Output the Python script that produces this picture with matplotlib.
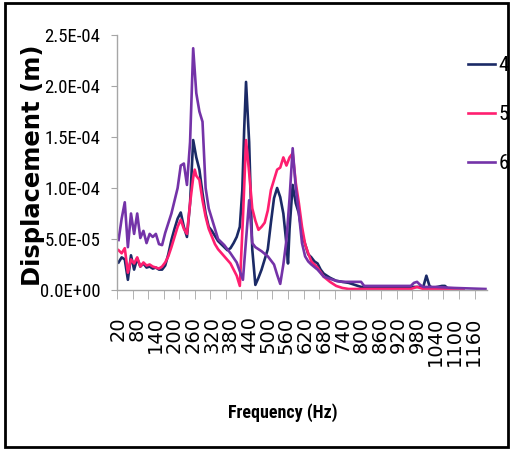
import matplotlib
matplotlib.use("Agg")
import matplotlib.pyplot as plt
from matplotlib import font_manager as fm
from matplotlib.font_manager import FontProperties
from matplotlib.patches import Rectangle
from matplotlib.ticker import FixedLocator, NullFormatter

# ---- data (displacement in units of 1e-4 m) ----
f4 = [20,30,40,50,60,70,80,90,100,110,120,130,140,150,160,170,180,190,200,210,220,230,240,250,260,270,280,290,300,
      310,320,340,360,370,380,390,400,410,418,424,430,440,450,460,470,480,490,500,510,520,530,540,550,560,565,570,
      580,590,600,610,620,630,640,650,660,670,680,700,720,740,760,780,800,850,900,950,1000,1010,1020,1030,1060,1070,1080,1100]
v4 = [0.27,0.32,0.30,0.10,0.34,0.20,0.31,0.23,0.26,0.22,0.23,0.21,0.22,0.20,0.20,0.24,0.35,0.49,0.60,0.70,
      0.76,0.62,0.52,0.85,1.47,1.30,1.18,0.95,0.75,0.62,0.58,0.48,0.42,0.39,0.41,0.46,0.52,0.62,
      0.98,1.57,2.04,1.45,0.40,0.05,0.12,0.20,0.30,0.40,0.66,0.90,1.00,0.91,0.75,0.45,0.26,0.60,1.03,0.85,0.75,
      0.55,0.45,0.35,0.32,0.28,0.26,0.20,0.16,0.12,0.09,0.08,0.07,0.05,0.03,0.03,0.03,0.03,0.03,0.14,0.04,0.02,
      0.04,0.04,0.01,0.01]

f5 = [20,30,40,50,60,70,80,90,100,110,120,130,140,150,160,170,180,190,200,210,220,230,240,250,260,265,270,280,290,300,310,
      330,340,360,380,400,410,420,430,440,450,460,470,480,490,500,510,520,530,540,550,560,570,580,590,600,
      610,620,630,640,660,680,700,720,740,760,800,900,960,980,1000,1050,1130]
v5 = [0.39,0.36,0.41,0.17,0.30,0.26,0.32,0.23,0.27,0.24,0.25,0.23,0.22,0.21,0.23,0.27,0.33,0.42,0.52,0.62,
      0.69,0.60,0.55,0.85,1.10,1.18,1.12,1.08,0.88,0.72,0.60,
      0.45,0.40,0.33,0.26,0.14,0.04,0.70,1.47,1.15,0.80,0.68,0.59,0.62,0.66,0.78,
      0.98,1.08,1.18,1.20,1.30,1.22,1.30,1.34,1.05,0.85,0.62,0.45,0.36,0.28,
      0.22,0.13,0.08,0.04,0.02,0.01,0.01,0.01,0.01,0.03,0.01,0.01,0.01]

f6 = [20,30,40,50,60,70,80,90,100,110,120,130,140,150,160,170,190,210,220,230,240,250,260,270,280,290,300,
      310,320,340,360,380,400,420,440,450,460,480,500,520,530,540,550,560,570,580,590,600,
      610,620,630,640,660,680,700,720,740,760,780,800,810,900,960,970,980,990,1000,1040,1100,1200]
v6 = [0.49,0.70,0.86,0.42,0.75,0.55,0.75,0.51,0.58,0.46,0.55,0.52,0.55,0.45,0.44,0.56,
      0.75,1.00,1.22,1.24,1.03,1.45,2.37,1.93,1.75,1.65,1.00,
      0.80,0.70,0.50,0.44,0.36,0.27,0.10,0.88,0.46,0.42,
      0.38,0.33,0.25,0.15,0.06,0.25,0.49,0.90,1.39,1.00,0.75,
      0.46,0.33,0.28,0.25,0.20,0.13,0.11,0.09,0.08,0.08,0.08,0.08,0.04,0.04,0.04,0.07,0.08,0.05,0.03,0.03,
      0.02,0.01]

series_names = ["4", "5", "6"]
series_colors = ["#1b2a66", "#ff1f70", "#7433a8"]
x_labels = list(range(20, 1161, 60))
y_ticks = [0, 0.5e-4, 1.0e-4, 1.5e-4, 2.0e-4, 2.5e-4]


# ---- deterministic choice of a narrow font (by file) ----
def _wnum(w):
    if isinstance(w, (int, float)):
        return w
    return fm.weight_dict.get(str(w), 400)


def narrow_font(bold):
    prio = ["Liberation Sans Narrow", "Arial Narrow", "Roboto Condensed", "DejaVu Sans",
            "Noto Sans", "Open Sans", "Lato", "Inter", "Roboto"]
    ents = [e for e in fm.fontManager.ttflist
            if e.style == "normal" and (e.stretch in ("condensed", "semi-condensed", "extra-condensed")
                                        or "Narrow" in e.name or "Condensed" in e.name)]
    target = 700 if bold else 400
    for p in prio:
        es = sorted([e for e in ents if e.name == p],
                    key=lambda e: (abs(_wnum(e.weight) - target), e.fname))
        if es:
            return es[0].fname
    return None


fn_reg = narrow_font(False)
fn_bold = narrow_font(True)


def fprop(size, bold=False):
    fn = fn_bold if bold else fn_reg
    if fn:
        return FontProperties(fname=fn, size=size)
    return FontProperties(family="Liberation Sans", size=size * 0.82,
                          weight="bold" if bold else "normal")


fig = plt.figure(figsize=(5.13, 4.49), dpi=100)
ax = fig.add_axes([117/513, 1-290/449, 370/513, 255/449])

for fx, vy, name, col in zip([f4, f5, f6], [v4, v5, v6], series_names, series_colors):
    ax.plot(fx, [v * 1e-4 for v in vy], color=col, lw=1.9, label=name, solid_joinstyle="round")

ax.set_xlim(15, 1205)
ax.set_ylim(0, 2.5e-4)

for s in ["top", "right"]:
    ax.spines[s].set_visible(False)
for s in ["left", "bottom"]:
    ax.spines[s].set_color("#a6a6a6")
    ax.spines[s].set_linewidth(1.0)

ax.set_yticks(y_ticks)
ax.set_yticklabels(["{:.1E}".format(v) for v in y_ticks], fontproperties=fprop(13.5))
ax.tick_params(axis="y", direction="out", length=4, color="#a6a6a6", pad=8)

ax.set_xticks(x_labels)
ax.set_xticklabels([str(v) for v in x_labels], rotation=90, family="DejaVu Sans", fontsize=14,
                   va="top", ha="center")
ax.tick_params(axis="x", which="major", length=0, pad=19)
ax.xaxis.set_minor_locator(FixedLocator([15 + 50 * k for k in range(24)]))
ax.xaxis.set_minor_formatter(NullFormatter())
ax.tick_params(axis="x", which="minor", direction="out", length=6.5, color="#a6a6a6")

ax.set_ylabel("Displacement (m)", fontsize=17.5, fontweight="bold", family="DejaVu Sans")
ax.yaxis.set_label_coords(-0.227, 0.49)
ax.yaxis.label.set_va("center")

ax.set_xlabel("Frequency (Hz)", fontproperties=fprop(13, bold=True))
ax.xaxis.set_label_coords(0.449, -0.482)
ax.xaxis.label.set_va("center")

fig.legend(loc="upper left", bbox_to_anchor=(468/513, 1-56/449), frameon=False,
           prop=fprop(15), handlelength=1.3, handletextpad=0.15, labelspacing=1.45,
           borderpad=0, borderaxespad=0)

fig.patches.append(Rectangle((5/513, 2/449), 503/513, 444/449, transform=fig.transFigure,
                             fill=False, edgecolor="black", lw=2.0))

fig.savefig("out.png", dpi=100)
